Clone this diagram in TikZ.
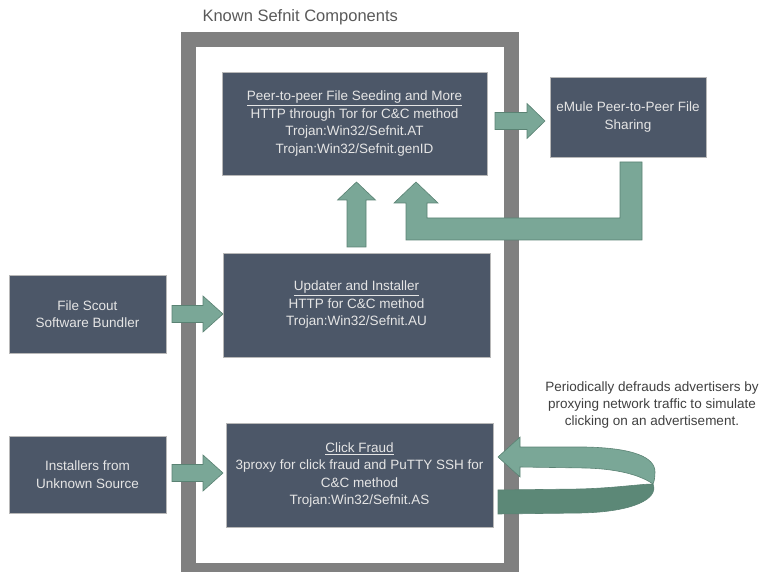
\documentclass[tikz,border=0pt]{standalone}
\usepackage{fontspec}
\setmainfont{Liberation Sans}
\usetikzlibrary{calc}
\definecolor{slate}{HTML}{4C5768}
\definecolor{seafoam}{HTML}{7AA797}
\definecolor{seafoamdark}{HTML}{5C8877}
\definecolor{seafoamedge}{HTML}{5A8273}
\definecolor{framegray}{HTML}{808080}
\tikzset{
  comp/.style={draw=white!72!black,line width=0.6pt,fill=slate,text=white!90!black,align=center,
    inner sep=0pt,outer sep=0pt,font=\fontsize{13.5}{17.5}\selectfont},
  flow/.style={fill=seafoam,draw=seafoamedge,line width=0.6pt},
}
\begin{document}
\begin{tikzpicture}[x=1pt,y=-1pt]
                \clip (0,0) rectangle (761,572);
                \node[anchor=west,text=black!65,font=\fontsize{16.5}{19}\selectfont] (title) at (199,17) {Known Sefnit Components};
                \draw[framegray,line width=15pt] (188.5,40) rectangle (511.5,570);
                \node[comp,minimum width=265pt,minimum height=103pt] (p2p) at (354.5,123.5)
                    {\underline{Peer-to-peer File Seeding and More}\\HTTP through Tor for C\&C method\\Trojan:Win32/Sefnit.AT\\Trojan:Win32/Sefnit.genID};
                \node[comp,minimum width=156pt,minimum height=80pt] (emule) at (628,117) {eMule Peer-to-Peer File\\Sharing};
                \node[comp,minimum width=267pt,minimum height=104pt] (upd) at (356.5,305)
                    {\underline{Updater and Installer}\\HTTP for C\&C method\\Trojan:Win32/Sefnit.AU};
                \node[comp,minimum width=157pt,minimum height=78pt] (scout) at (87.5,314) {File Scout\\Software Bundler};
                \node[comp,minimum width=157pt,minimum height=77pt] (inst) at (87.5,474.5) {Installers from\\Unknown Source};
                \node[comp,minimum width=267pt,minimum height=104pt] (click) at (359.5,475)
                    {\underline{Click Fraud}\\3proxy for click fraud and PuTTY SSH for\\C\&C method\\Trojan:Win32/Sefnit.AS};
                \node[align=center,text=black!75,font=\fontsize{13.5}{17}\selectfont] (note) at (652,405)
                    {Periodically defrauds advertisers by\\proxying network traffic to simulate\\clicking on an advertisement.};
                % straight block arrows
                \draw[flow] ($(p2p.east)+(8,-2.5)$) ++(0,-8.5) -- ++(32,0) -- ++(0,-9) -- ++(18,17.5) -- ++(-18,17.5) -- ++(0,-9) -- ++(-32,0) -- cycle;
                \draw[flow] ($(scout.east)+(6,0)$) ++(0,-8.5) -- ++(31,0) -- ++(0,-9.5) -- ++(20,18) -- ++(-20,18) -- ++(0,-9.5) -- ++(-31,0) -- cycle;
                \draw[flow] ($(inst.east)+(6,-1.5)$) ++(0,-8.5) -- ++(31,0) -- ++(0,-9.5) -- ++(20,18) -- ++(-20,18) -- ++(0,-9.5) -- ++(-31,0) -- cycle;
                \draw[flow] ($(upd.north)+(0,-6)$) ++(-9.5,0) -- ++(0,-47) -- ++(-9.5,0) -- ++(19,-18) -- ++(19,18) -- ++(-9.5,0) -- ++(0,47) -- cycle;
                \draw[flow] ($(emule.south)+(3,5)$) ++(-11,0) -- ++(22,0) -- ++(0,78) -- ++(-236,0) -- ++(0,-37) -- ++(-12,0)
                    -- ++(22,-21) -- ++(22,21) -- ++(-11,0) -- ++(0,15) -- ++(193,0) -- cycle;
                % looping arrow back into click fraud
                \begin{scope}[shift={(click.east)}]
                    \draw[fill=seafoamdark,draw=seafoamedge,line width=0.6pt] (5,15) -- (87,14) .. controls (122,13) and (148,9) .. (160,9)
                        .. controls (166,24) and (140,37) .. (87,38) -- (5,39) -- cycle;
                    \draw[flow] (27,-28) -- (92,-28) .. controls (140,-27) and (162,-18) .. (162,-3) .. controls (162,3) and (161,7) .. (160,9)
                        .. controls (150,2) and (130,-6) .. (92,-7) -- (27,-8) -- (27,2) -- (5,-18) -- (27,-38) -- cycle;
                \end{scope}
\end{tikzpicture}
\end{document}
